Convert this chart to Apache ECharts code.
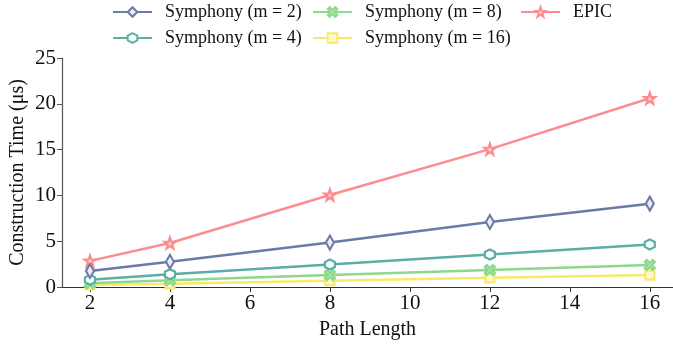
<!DOCTYPE html>
<html><head><meta charset="utf-8">
<script src="https://cdn.jsdelivr.net/npm/echarts@6/dist/echarts.min.js"></script>
<style>html,body{margin:0;padding:0;background:#fff}#c{width:673px;height:345px}</style>
</head><body><div id="c"></div>
<script>
const pathLengths = [2, 4, 8, 12, 16];
const seriesNames = ['Symphony (m = 2)', 'Symphony (m = 4)', 'Symphony (m = 8)', 'Symphony (m = 16)', 'EPIC'];
const symM2 = [1.75, 2.75, 4.85, 7.1, 9.1];
const symM4 = [0.78, 1.4, 2.45, 3.55, 4.65];
const symM8 = [0.42, 0.75, 1.3, 1.85, 2.4];
const symM16 = [0.22, 0.35, 0.68, 1.0, 1.3];
const epic = [2.85, 4.8, 10.05, 15.05, 20.6];
const xTicks = [2, 4, 6, 8, 10, 12, 14, 16];
const yTicks = [0, 5, 10, 15, 20, 25];

const colors = ['#6b7aa8', '#5aafa5', '#8dd88d', '#f8ea68', '#ff8c8c'];
const symbols = [
  'path://M0,-10 L4.5,0 L0,10 L-4.5,0 Z',
  'path://M0,-10 L8.66,-5 L8.66,5 L0,10 L-8.66,5 L-8.66,-5 Z',
  'path://M-10,-6 L-6,-10 L0,-4 L6,-10 L10,-6 L4,0 L10,6 L6,10 L0,4 L-6,10 L-10,6 L-4,0 Z',
  'rect',
  'path://M0,-10 L2.35,-3.24 L9.51,-3.09 L3.8,1.24 L5.88,8.09 L0,4 L-5.88,8.09 L-3.8,1.24 L-9.51,-3.09 L-2.35,-3.24 Z'
];
const sizes = [[8, 14], 10, 10, 9, 11];
const fills = ['#e8ecf6', '#ffffff', '#b8ecb8', '#fdf8d0', '#ffd6d6'];
const datas = [symM2, symM4, symM8, symM16, epic];

const font = 'Liberation Serif, Times New Roman, serif';
const series = seriesNames.map((n, i) => ({
  name: n, type: 'line',
  data: pathLengths.map((x, j) => [x, datas[i][j]]),
  symbol: symbols[i], symbolSize: sizes[i], showAllSymbol: true,
  lineStyle: { color: colors[i], width: 2.5 },
  itemStyle: { color: fills[i], borderColor: colors[i], borderWidth: 2.2 },
  z: 10 - i,
  animation: false
}));

function legend(names, left) {
  return {
    data: names, orient: 'vertical', left: left, top: 3, padding: 0,
    itemWidth: 39, itemHeight: 12, itemGap: 8,
    textStyle: { fontFamily: font, fontSize: 18, color: '#111', padding: [0, 0, 0, 8] },
    selectedMode: false
  };
}

const chart = echarts.init(document.getElementById('c'), null, { renderer: 'canvas' });
chart.setOption({
  backgroundColor: '#fff',
  animation: false,
  color: colors,
  legend: [
    legend([seriesNames[0], seriesNames[1]], 112),
    legend([seriesNames[2], seriesNames[3]], 312),
    legend([seriesNames[4]], 520)
  ],
  grid: { left: 62, right: 0, top: 58, bottom: 58, containLabel: false, outerBoundsMode: 'none' },
  xAxis: {
    type: 'value', min: 1.3, max: 16.58,
    name: 'Path Length', nameLocation: 'middle', nameGap: 33, nameMoveOverlap: false,
    nameTextStyle: { fontFamily: font, fontSize: 20, color: '#111' },
    axisLine: { lineStyle: { color: '#333', width: 1.2 } },
    axisTick: { show: true, length: 5, lineStyle: { color: '#333' }, customValues: xTicks },
    axisLabel: { fontFamily: font, fontSize: 21, color: '#111', margin: 6, customValues: xTicks },
    splitLine: { show: false }
  },
  yAxis: {
    type: 'value', min: 0, max: 25, interval: 5,
    name: 'Construction Time (\u03bcs)', nameLocation: 'middle', nameGap: 34, nameMoveOverlap: false,
    nameTextStyle: { fontFamily: font, fontSize: 20, color: '#111' },
    axisLine: { show: true, lineStyle: { color: '#555', width: 1.2 } },
    axisTick: { show: true, length: 5, lineStyle: { color: '#555' } },
    axisLabel: { fontFamily: font, fontSize: 21, color: '#111', margin: 6 },
    splitLine: { show: false }
  },
  series: series
});
</script></body></html>
